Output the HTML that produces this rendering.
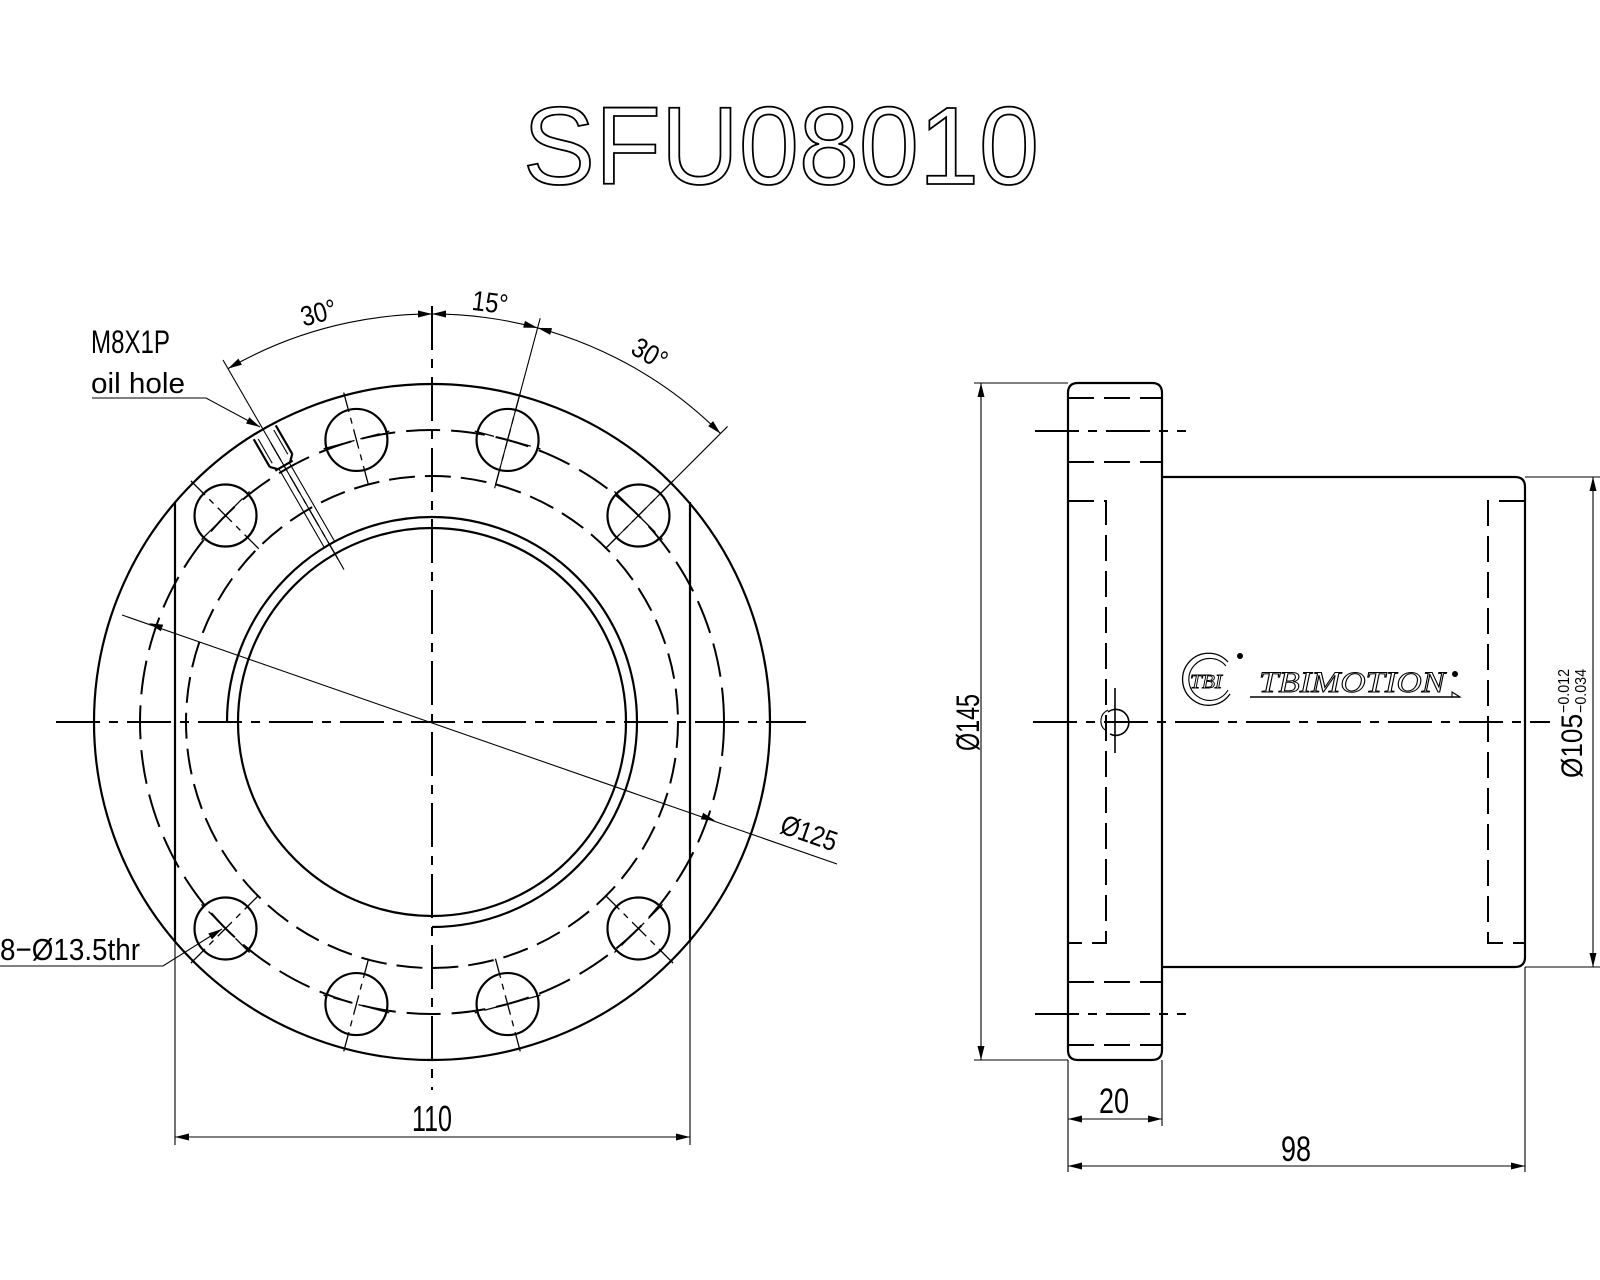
<!DOCTYPE html>
<html><head><meta charset="utf-8">
<style>
html,body{margin:0;padding:0;background:#fff;}
svg{display:block;}
.s{stroke:#000;stroke-width:2.2;fill:none;}
.t{stroke:#000;stroke-width:1.1;fill:none;}
.c{stroke:#000;stroke-width:2;fill:none;stroke-dasharray:44 9 9 9;}
.cc{stroke:#000;stroke-width:1.3;fill:none;stroke-dasharray:20 6 6 6;}
.h{stroke:#000;stroke-width:2;fill:none;stroke-dasharray:26 10;}
.h2{stroke:#000;stroke-width:2;fill:none;stroke-dasharray:34 11;}
text{font-family:"Liberation Sans",sans-serif;fill:#000;}
</style></head>
<body>
<svg id="g" xmlns="http://www.w3.org/2000/svg" width="1600" height="1280" viewBox="0 0 1600 1280">
<rect width="1600" height="1280" fill="#fff"/>
<!-- Title -->
<text x="523" y="184" font-size="110" textLength="516" lengthAdjust="spacingAndGlyphs" style="fill:#fff;stroke:#000;stroke-width:1.8">SFU08010</text>

<!-- LEFT VIEW static -->
<circle class="s" cx="432" cy="722" r="338"/>
<circle class="h2" cx="432" cy="722" r="292"/>
<circle class="h" cx="432" cy="722" r="246"/>
<circle class="s" cx="432" cy="722" r="194"/>
<path class="s" d="M227 722 A205 205 0 1 1 432 927"/>
<line class="s" x1="175" y1="502" x2="175" y2="942"/>
<line class="s" x1="690" y1="502" x2="690" y2="942"/>
<line class="t" x1="175" y1="942" x2="175" y2="1145"/>
<line class="t" x1="690" y1="942" x2="690" y2="1145"/>
<line class="c" x1="56" y1="722" x2="806" y2="722"/>
<line class="c" x1="432" y1="306" x2="432" y2="1090"/>
<!-- Ø125 leader -->
<line class="t" x1="122" y1="615" x2="837" y2="864"/>
<text font-size="28" text-anchor="middle" transform="translate(806,842) rotate(19.2)" textLength="58" lengthAdjust="spacingAndGlyphs">Ø125</text>
<!-- 110 -->
<line class="t" x1="175" y1="1137" x2="690" y2="1137"/>
<text x="432" y="1131" font-size="36" text-anchor="middle" textLength="40" lengthAdjust="spacingAndGlyphs">110</text>
<!-- 8-Ø13.5thr -->
<text x="0" y="960" font-size="31" textLength="140" lengthAdjust="spacingAndGlyphs">8−Ø13.5thr</text>
<polyline class="t" points="0,966 163,966 222,929"/>
<!-- M8X1P oil hole -->
<text x="91" y="353" font-size="32" textLength="79" lengthAdjust="spacingAndGlyphs">M8X1P</text>
<text x="91" y="393" font-size="29" textLength="94" lengthAdjust="spacingAndGlyphs">oil  hole</text>
<polyline class="t" points="92,398 206,398 260,427"/>
<!-- angle labels -->
<text font-size="28" text-anchor="middle" transform="translate(321,322) rotate(-15)" textLength="36" lengthAdjust="spacingAndGlyphs">30°</text>
<text font-size="28" text-anchor="middle" transform="translate(489,312) rotate(7)" textLength="36" lengthAdjust="spacingAndGlyphs">15°</text>
<text font-size="28" text-anchor="middle" transform="translate(645,362) rotate(30)" textLength="36" lengthAdjust="spacingAndGlyphs">30°</text>

<!-- RIGHT VIEW -->
<path class="s" d="M1078 383 H1152 Q1162 383 1162 393 V1050 Q1162 1060 1152 1060 H1078 Q1068 1060 1068 1050 V393 Q1068 383 1078 383 Z"/>
<path class="s" d="M1162 477 H1515 Q1525 477 1525 487 V957 Q1525 967 1515 967 H1162"/>
<line class="h" x1="1068" y1="398" x2="1162" y2="398"/>
<line class="h" x1="1068" y1="462" x2="1162" y2="462"/>
<line class="h" x1="1068" y1="982" x2="1162" y2="982"/>
<line class="h" x1="1068" y1="1045" x2="1162" y2="1045"/>
<path class="h" d="M1068 501 H1106 V943 H1068"/>
<path class="h" d="M1525 501 H1488 V943 H1525"/>
<line class="c" x1="1035" y1="431" x2="1186" y2="431"/>
<line class="c" x1="1035" y1="1014" x2="1186" y2="1014"/>
<line class="c" x1="1033" y1="722" x2="1550" y2="722"/>
<path class="t" d="M1108 712 A13 13 0 1 1 1110 734" style="stroke-width:1.6"/>
<path class="t" d="M1105 730 A12 12 0 0 1 1108 710"/>
<line class="t" x1="1115" y1="688" x2="1115" y2="753" style="stroke-width:1.6"/>
<!-- logo -->
<path class="t" d="M1228 662 A26 26 0 1 0 1230 694" style="stroke-width:1.3"/>
<path class="t" d="M1226 666 A21 21 0 1 0 1228 690"/>
<circle cx="1240" cy="656" r="3" fill="#000"/>
<text x="1190" y="688" font-size="20" font-style="italic" textLength="32" lengthAdjust="spacingAndGlyphs" style="font-family:'Liberation Serif',serif;fill:#fff;stroke:#000;stroke-width:0.9">TBI</text>
<text x="1259" y="692" font-size="30" font-style="italic" textLength="186" lengthAdjust="spacingAndGlyphs" style="font-family:'Liberation Serif',serif;fill:#fff;stroke:#000;stroke-width:1">TBIMOTION</text>
<circle cx="1455" cy="674" r="3" fill="#000"/>
<line class="t" x1="1250" y1="697" x2="1460" y2="697" style="stroke-width:1.4"/>
<path class="t" d="M1452 692 L1460 697 H1452 Z"/>
<!-- Ø145 -->
<line class="t" x1="974" y1="383" x2="1068" y2="383"/>
<line class="t" x1="974" y1="1060" x2="1068" y2="1060"/>
<line class="t" x1="981" y1="383" x2="981" y2="1060"/>
<text font-size="32" transform="translate(979,751) rotate(-90)" textLength="57" lengthAdjust="spacingAndGlyphs">Ø145</text>
<!-- Ø105 -->
<line class="t" x1="1525" y1="477" x2="1600" y2="477"/>
<line class="t" x1="1525" y1="967" x2="1600" y2="967"/>
<line class="t" x1="1593" y1="477" x2="1593" y2="967"/>
<g transform="translate(1582,778) rotate(-90)">
<text x="0" y="0" font-size="30" textLength="64" lengthAdjust="spacingAndGlyphs">Ø105</text>
<text x="65" y="-13" font-size="16" textLength="44" lengthAdjust="spacingAndGlyphs">−0.012</text>
<text x="65" y="4" font-size="16" textLength="44" lengthAdjust="spacingAndGlyphs">−0.034</text>
</g>
<!-- 20 / 98 -->
<line class="t" x1="1068" y1="1060" x2="1068" y2="1172"/>
<line class="t" x1="1162" y1="1060" x2="1162" y2="1126"/>
<line class="t" x1="1525" y1="967" x2="1525" y2="1172"/>
<line class="t" x1="1068" y1="1119" x2="1162" y2="1119"/>
<line class="t" x1="1068" y1="1166" x2="1525" y2="1166"/>
<text x="1114" y="1113" font-size="35" text-anchor="middle" textLength="30" lengthAdjust="spacingAndGlyphs">20</text>
<text x="1296" y="1161" font-size="35" text-anchor="middle" textLength="30" lengthAdjust="spacingAndGlyphs">98</text>
<g id="dyn"></g>
</svg>
<script>
(function(){
var NS="http://www.w3.org/2000/svg",g=document.getElementById("dyn");
function el(t,a){var e=document.createElementNS(NS,t);for(var k in a)e.setAttribute(k,a[k]);g.appendChild(e);return e;}
function line(x1,y1,x2,y2,c){return el("line",{x1:x1,y1:y1,x2:x2,y2:y2,"class":c});}
function arrow(x,y,dx,dy){var l=Math.hypot(dx,dy);dx/=l;dy/=l;var L=14,W=3.5;
 var bx=x-dx*L,by=y-dy*L;el("polygon",{points:x+","+y+" "+(bx-dy*W)+","+(by+dx*W)+" "+(bx+dy*W)+","+(by-dx*W),fill:"#000"});}
var cx=432,cy=722,d=Math.PI/180;
function P(r,a){return [cx+r*Math.sin(a*d),cy-r*Math.cos(a*d)];}
// holes
[15,-15,45,-45,165,195,135,225].forEach(function(a){
 var c=P(292,a);el("circle",{cx:c[0],cy:c[1],r:31,"class":"s"});
 var p1=P(245,a),p2=P(345,a);line(p1[0],p1[1],p2[0],p2[1],"cc");
 var tx=Math.cos(a*d),ty=Math.sin(a*d);
 line(c[0]-tx*34,c[1]-ty*34,c[0]+tx*34,c[1]+ty*34,"cc");
});
// angle extension lines
[[ -30,176,418],[15,242,418],[45,245,418]].forEach(function(v){var a=P(v[1],v[0]),b=P(v[2],v[0]);line(a[0],a[1],b[0],b[1],"t");});
// angle arc
var A=P(408,-30),B=P(408,45);
el("path",{d:"M"+A[0]+" "+A[1]+" A408 408 0 0 1 "+B[0]+" "+B[1],"class":"t"});
function arr(a,dir){var p=P(408,a);arrow(p[0],p[1],dir*Math.cos(a*d),dir*Math.sin(a*d));}
arr(-30,-1);arr(0,1);arr(0,-1);arr(15,1);arr(15,-1);arr(45,1);
// oil hole detail (rotated frame)
var og=document.createElementNS(NS,"g");og.setAttribute("transform","rotate(-30 432 722)");g.appendChild(og);
function ol(x1,y1,x2,y2,c){var e=document.createElementNS(NS,"line");e.setAttribute("x1",x1);e.setAttribute("y1",y1);e.setAttribute("x2",x2);e.setAttribute("y2",y2);e.setAttribute("class",c);og.appendChild(e);}
ol(419,388,419,420,"s");ol(445,387,445,420,"s");ol(423,390,423,418,"t");ol(441,390,441,418,"t");
ol(419,420,425,426,"s");ol(445,420,439,426,"s");ol(422,426,442,426,"s");
ol(426,426,426,517,"t");ol(438,426,438,517,"t");ol(432,400,432,540,"cc");
// Ø125 arrows
var ux=0.944,uy=0.329;arrow(cx-300*ux,cy-300*uy,-ux,-uy);arrow(cx+300*ux,cy+300*uy,ux,uy);
// 110 arrows
arrow(175,1137,-1,0);arrow(690,1137,1,0);
// 8-hole leader arrow
arrow(222,929,59,-37);
// oil hole leader arrow
arrow(260,427,54,29);
// right dims
arrow(981,383,0,-1);arrow(981,1060,0,1);
arrow(1593,477,0,-1);arrow(1593,967,0,1);
arrow(1068,1119,-1,0);arrow(1162,1119,1,0);
arrow(1068,1166,-1,0);arrow(1525,1166,1,0);
})();
</script>
</body></html>
